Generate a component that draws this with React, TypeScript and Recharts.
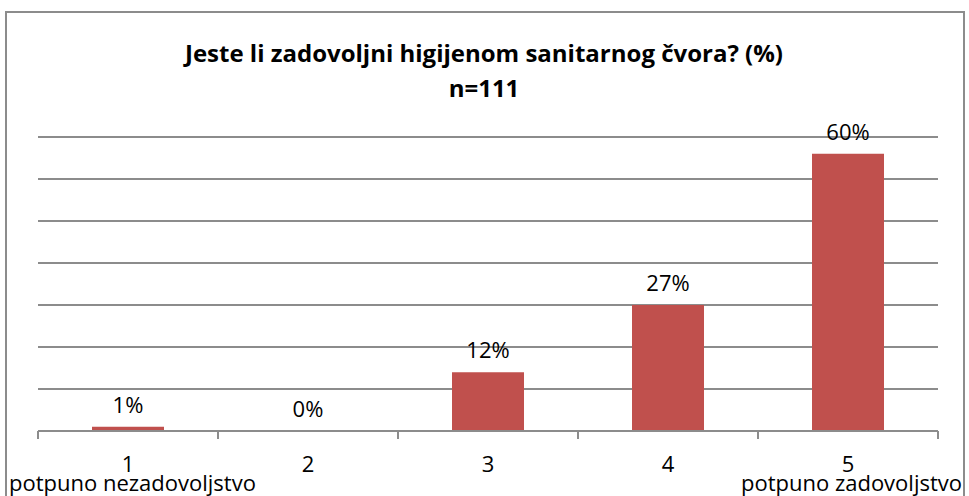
import { Bar, CartesianGrid, ComposedChart, LabelList, Line, XAxis, YAxis } from 'recharts'

const categories = ['1', '2', '3', '4', '5']
const counts = [1, 0, 14, 30, 66]
const percentLabels = ['1%', '0%', '12%', '27%', '60%']
const yTicks = [0, 10, 20, 30, 40, 50, 60, 70]

const TITLE = 'Jeste li zadovoljni higijenom sanitarnog čvora? (%)'
const SUBTITLE = 'n=111'
const LEFT_NOTE = 'potpuno nezadovoljstvo'
const RIGHT_NOTE = 'potpuno zadovoljstvo'

const W = 969
const H = 496
const MARGIN = { top: 137, right: 31, bottom: 35, left: 38 }
const PLOT_W = W - MARGIN.left - MARGIN.right
const HALF_BAND = PLOT_W / categories.length / 2

const GRID = '#8c8c8c'
const BAR = '#C0504D'
const FONT = "'Open Sans', sans-serif"

const chartData = categories.map((c, i) => ({ cat: c, value: counts[i], label: percentLabels[i] }))

const CatTick = (props: any) => {
  const { x, y, payload, index } = props
  const last = index === categories.length - 1
  return (
    <g>
      <line x1={x - HALF_BAND} x2={x - HALF_BAND} y1={y - 8} y2={y} stroke={GRID} strokeWidth={2} />
      {last && <line x1={x + HALF_BAND} x2={x + HALF_BAND} y1={y - 8} y2={y} stroke={GRID} strokeWidth={2} />}
      <text x={x} y={y + 33} textAnchor="middle" fontSize={22} fontFamily={FONT} fill="#000">
        {payload.value}
      </text>
    </g>
  )
}

const App = () => {
  return (
    <div style={{ position: 'relative', width: W, height: H, overflow: 'hidden', background: '#fff', fontFamily: FONT }}>
      <style>{'body{margin:0;overflow:hidden}'}</style>
      <div
        style={{
          position: 'absolute',
          left: 5,
          top: 11,
          width: 956,
          height: 520,
          border: '2px solid #8c8c8c',
        }}
      />
      <div
        style={{
          position: 'absolute',
          left: 5,
          top: 35,
          width: 958,
          textAlign: 'center',
          fontWeight: 700,
          fontSize: 24,
          lineHeight: '35px',
          color: '#000',
        }}
      >
        <div>{TITLE}</div>
        <div>{SUBTITLE}</div>
      </div>
      <div style={{ position: 'absolute', left: 0, top: 0 }}>
        <ComposedChart width={W} height={H} data={chartData} margin={MARGIN} barCategoryGap="30%">
          <CartesianGrid horizontal vertical={false} stroke={GRID} strokeWidth={2} />
          <YAxis hide domain={[0, 70]} ticks={yTicks} />
          <XAxis
            dataKey="cat"
            axisLine={{ stroke: GRID, strokeWidth: 2 }}
            tickLine={false}
            tick={<CatTick />}
            interval={0}
          />
          <Bar dataKey="value" fill={BAR} isAnimationActive={false} />
          <Line dataKey="value" stroke="none" dot={false} activeDot={false} isAnimationActive={false}>
            <LabelList dataKey="label" position="top" offset={14} fontSize={22} fontFamily={FONT} fill="#000" />
          </Line>
        </ComposedChart>
      </div>
      <div style={{ position: 'absolute', left: 9, top: 468, fontSize: 22, color: '#000', lineHeight: '28px' }}>{LEFT_NOTE}</div>
      <div style={{ position: 'absolute', right: 7, top: 468, fontSize: 22, color: '#000', lineHeight: '28px' }}>{RIGHT_NOTE}</div>
    </div>
  )
}

export default App
